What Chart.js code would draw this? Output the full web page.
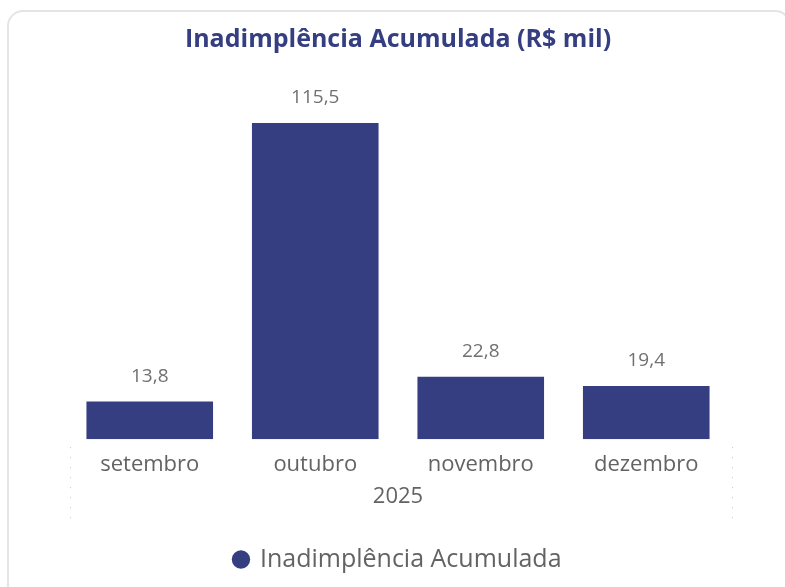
<!DOCTYPE html>
<html>
<head>
<meta charset="utf-8">
<script src="https://cdn.jsdelivr.net/npm/chart.js"></script>
<style>
    html, body { margin: 0; padding: 0; background: #ffffff; }
    body { width: 785px; height: 587px; position: relative; overflow: hidden; }
    .card {
        position: absolute; left: 7px; top: 10px; width: 780px; height: 600px;
        border: 2px solid #e4e4e4; border-radius: 16px; background: #ffffff;
    }
    #chart { position: absolute; left: 0; top: 0; }
</style>
</head>
<body>
<div class="card"></div>
<canvas id="chart" width="785" height="587"></canvas>
<script>
const categories = ["setembro", "outubro", "novembro", "dezembro"];
const groupLabel = "2025";
const seriesName = "Inadimplência Acumulada";
const values = [13.8, 115.5, 22.8, 19.4];

const NAVY = "#343e80";
const GREY = "#636363";

function formatBR(v) {
    return v.toLocaleString("pt-BR", { minimumFractionDigits: 1, maximumFractionDigits: 1 });
}

// rótulos de valor acima das barras
const valueLabels = {
    id: "valueLabels",
    afterDatasetsDraw(chart) {
        const ctx = chart.ctx;
        const meta = chart.getDatasetMeta(0);
        ctx.save();
        ctx.font = "19px 'Open Sans'";
        ctx.fillStyle = "#707070";
        ctx.textAlign = "center";
        ctx.textBaseline = "middle";
        meta.data.forEach((bar, i) => {
            ctx.fillText(formatBR(values[i]), bar.x, bar.y - 25);
        });
        ctx.restore();
    }
};

// linhas pontilhadas nas bordas do grupo do eixo x
const groupEdges = {
    id: "groupEdges",
    afterDraw(chart) {
        const x = chart.scales.x;
        const ctx = chart.ctx;
        ctx.save();
        ctx.strokeStyle = "#c4c4c4";
        ctx.lineWidth = 1;
        ctx.setLineDash([1, 9]);
        [x.left + 3, x.right + 3].forEach(px => {
            ctx.beginPath();
            ctx.moveTo(Math.round(px) + 0.5, x.top + 8);
            ctx.lineTo(Math.round(px) + 0.5, x.top + 82);
            ctx.stroke();
        });
        ctx.restore();
    }
};

new Chart(document.getElementById("chart").getContext("2d"), {
    type: "bar",
    data: {
        labels: categories,
        datasets: [{
            label: seriesName,
            data: values,
            backgroundColor: NAVY,
            categoryPercentage: 1,
            barPercentage: 0.765
        }]
    },
    options: {
        responsive: false,
        animation: false,
        layout: { padding: { left: 67, right: 56, top: 0, bottom: 5 } },
        plugins: {
            title: {
                display: true,
                text: "Inadimplência Acumulada (R$ mil)",
                color: NAVY,
                font: { family: "'Open Sans'", size: 25, weight: "bold" },
                padding: { top: 25, bottom: 20 }
            },
            legend: {
                position: "bottom",
                labels: {
                    color: GREY,
                    font: { family: "'Open Sans'", size: 25 },
                    usePointStyle: true,
                    pointStyle: "circle",
                    boxWidth: 13,
                    boxHeight: 13,
                    padding: 10
                }
            },
            tooltip: { enabled: false }
        },
        scales: {
            y: { display: false, min: 0, max: 133 },
            x: {
                grid: { display: false, drawTicks: false },
                border: { display: false },
                ticks: {
                    color: GREY,
                    font: { family: "'Open Sans'", size: 22 },
                    padding: 12
                },
                title: {
                    display: true,
                    text: groupLabel,
                    color: GREY,
                    font: { family: "'Open Sans'", size: 22 },
                    padding: { top: -6, bottom: 27 }
                }
            }
        }
    },
    plugins: [valueLabels, groupEdges]
});
</script>
</body>
</html>
